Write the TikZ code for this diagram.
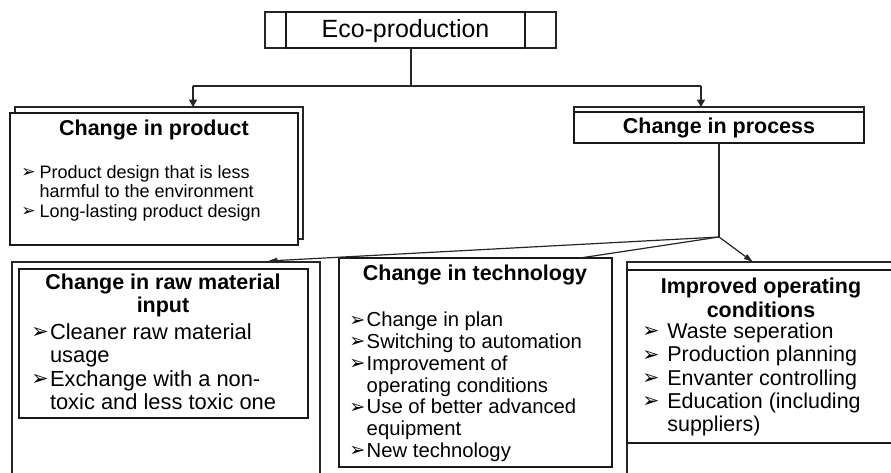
\documentclass[tikz,border=0pt]{standalone}
\usepackage{fontspec}
\setmainfont{Liberation Sans}
\newfontfamily\dejavu{DejaVu Sans}
\usetikzlibrary{arrows.meta}
\newcommand{\arr}{\raisebox{0.03em}{\scalebox{0.95}{\dejavu\char"27A2}}}
\newcommand{\ecofont}{\fontsize{18.7}{22}\selectfont}
\newcommand{\headfont}{\fontsize{16.1}{17.6}\selectfont\bfseries}
\newcommand{\prodfont}{\fontsize{13.5}{14.6}\selectfont}
\newcommand{\rawfont}{\fontsize{16.4}{17.6}\selectfont}
\newcommand{\techfont}{\fontsize{15.2}{16.35}\selectfont}
\newcommand{\condfont}{\fontsize{16.1}{17.5}\selectfont}
\tikzset{
  thinbox/.style={line width=0.9pt, draw=black!85},
  thickbox/.style={line width=1.5pt, draw=black!90},
  tiparrow/.style={-{Triangle[width=6pt,length=5.5pt]}},
  slimarrow/.style={-{Triangle[width=4pt,length=7pt]}},
  listnode/.style={anchor=north west, inner sep=0pt}
}
\begin{document}
\begin{tikzpicture}[x=0.75pt, y=-0.75pt, line join=miter]
	\clip (0,0) rectangle (891,472);
	%%%%%%%%%%%%%%%%%%%%%%%%%%%%%%%%%
	\coordinate (E) at (411,48);
	\coordinate (J) at (411,86);
	\coordinate (L) at (193,86);
	\coordinate (R) at (701,86);
	\coordinate (P) at (193,107);
	\coordinate (Q) at (701,107);
	\coordinate (S) at (719,143);
	\coordinate (T) at (719,237);
	\coordinate (U) at (268,261);
	\coordinate (V) at (580,258);
	\coordinate (W) at (753,262);
	%%%%%%%%%%%%%%%%%%%%%%%%%%%%%%%%%
	% top box
	\draw[thinbox] (265,12) rectangle (556,48);
	\draw[thickbox, fill=white] (286,12) rectangle (525,48);
	\node[font=\ecofont] (eco) at (405.5,31) {Eco-production};
	% product box
	\draw[thinbox] (15,107) rectangle (303,239);
	\draw[thickbox, fill=white] (10,113) rectangle (298,245);
	\node[font=\headfont] (prodhead) at (154,130) {Change in product};
	\node[listnode, font=\prodfont] (prodlist) at (21,164.3) {%
		\begin{tabular}{@{}l@{\hspace{3pt}}l@{}}
			\arr & Product design that is less\\
			     & harmful to the environment\\
			\arr & Long-lasting product design
		\end{tabular}};
	% process box
	\draw[thinbox] (574,107) rectangle (864,138);
	\draw[thickbox, fill=white] (574,112) rectangle (864,143);
	\node[font=\headfont] (prochead) at (719,128) {Change in process};
	%%%%%%%%%%%%%%%%%%%%%%%%%%%%%%%%%
	% lower boxes
	\draw[thinbox] (12,480) -- (12,262) -- (320,262) -- (320,480);
	\draw[thickbox] (19,269) rectangle (308,418);
	\draw[thickbox] (339,258) rectangle (612,467);
	\draw[thinbox] (895,262) -- (627,262) -- (627,480);
	\draw[thickbox] (895,270) -- (627,270) -- (627,443) -- (895,443);
	%%%%%%%%%%%%%%%%%%%%%%%%%%%%%%%%%
	\node[font=\headfont, align=center] (rawhead) at (163,295.5) {Change in raw material\\input};
	\node[listnode, font=\rawfont] (rawlist) at (31,322.5) {%
		\begin{tabular}{@{}l@{\hspace{1pt}}l@{}}
			\arr & Cleaner raw material\\
			     & usage\\
			\arr & Exchange with a non-\\
			     & toxic and less toxic one
		\end{tabular}};
	\node[font=\headfont] (techhead) at (475,275) {Change in technology};
	\node[listnode, font=\techfont] (techlist) at (349,311.2) {%
		\begin{tabular}{@{}l@{\hspace{1pt}}l@{}}
			\arr & Change in plan\\
			\arr & Switching to automation\\
			\arr & Improvement of\\
			     & operating conditions\\
			\arr & Use of better advanced\\
			     & equipment\\
			\arr & New technology
		\end{tabular}};
	\node[font=\headfont, align=center] (condhead) at (761,298) {Improved operating\\conditions};
	\node[listnode, font=\condfont] (condlist) at (642,322) {%
		\begin{tabular}{@{}l@{\hspace{6pt}}l@{}}
			\arr & Waste seperation\\
			\arr & Production planning\\
			\arr & Envanter controlling\\
			\arr & Education (including\\
			     & suppliers)
		\end{tabular}};
	%%%%%%%%%%%%%%%%%%%%%%%%%%%%%%%%%
	% connectors
	\draw[thinbox] (E) -- (J);
	\draw[thinbox] (L) -- (R);
	\draw[thinbox, tiparrow] (L) -- (P);
	\draw[thinbox, tiparrow] (R) -- (Q);
	\draw[thinbox] (S) -- (T);
	\draw[thinbox, slimarrow] (T) -- (U);
	\draw[thinbox] (T) -- (V);
	\draw[thinbox, slimarrow] (T) -- (W);
	%%%%%%%%%%%%%%%%%%%%%%%%%%%%%%%%%
\end{tikzpicture}
\end{document}
